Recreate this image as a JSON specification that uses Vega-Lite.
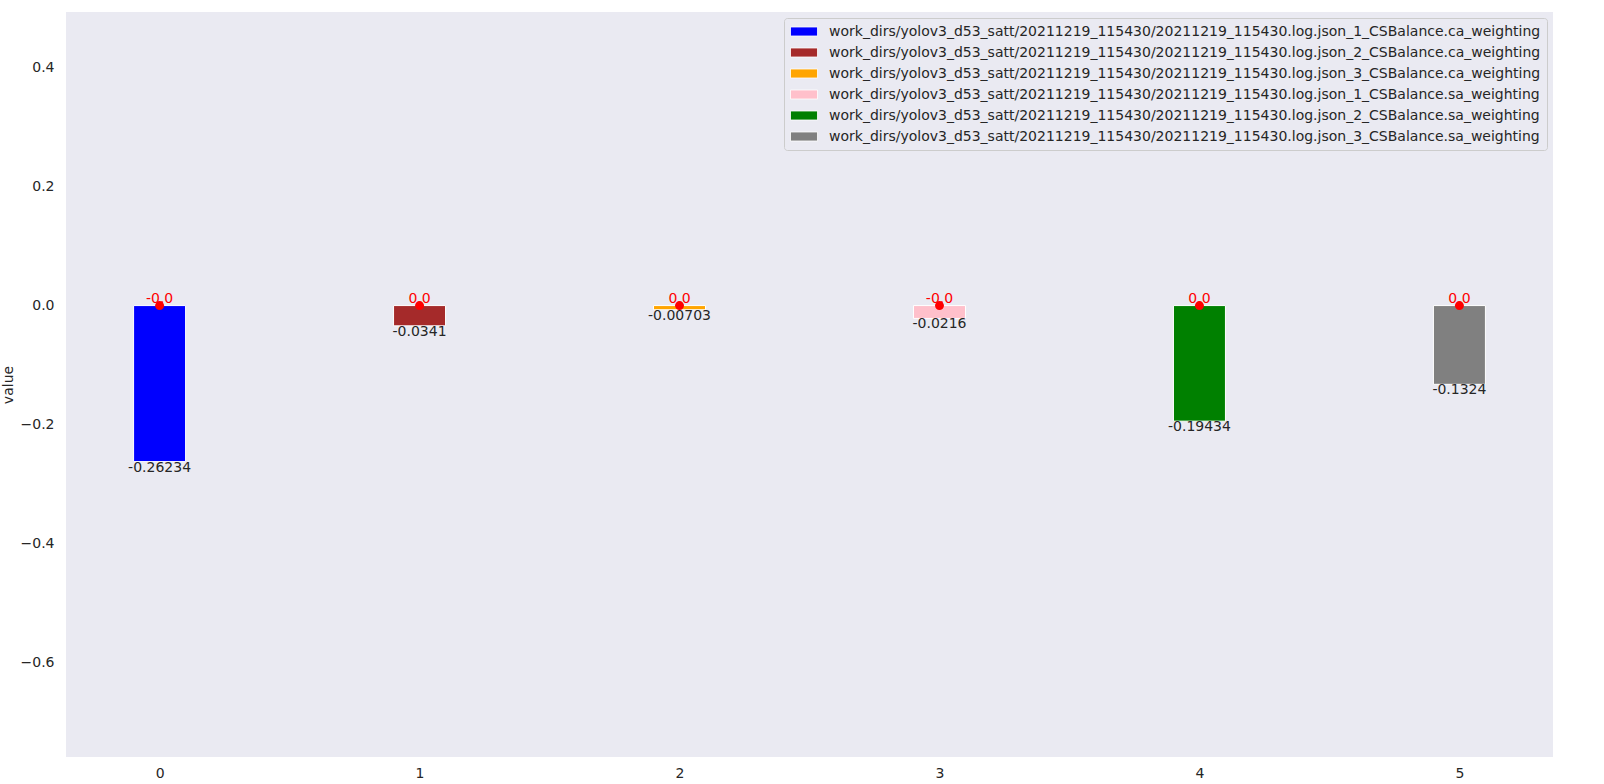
{
  "$schema": "https://vega.github.io/schema/vega-lite/v6.json",
  "autosize": "none",
  "width": 1487,
  "height": 745,
  "padding": {"left": 66, "top": 12, "right": 51, "bottom": 27},
  "background": "white",
  "config": {
    "font": "DejaVu Sans",
    "view": {"fill": "#EAEAF2", "stroke": null},
    "axis": {"grid": false, "ticks": false, "domain": false, "labelFontSize": 14, "labelColor": "#262626", "titleColor": "#262626", "titleFontWeight": "normal", "titleFontSize": 14, "labelFont": "DejaVu Sans", "titleFont": "DejaVu Sans"}
  },
  "data": {
    "values": [
      {"idx": 0, "series": "work_dirs/yolov3_d53_satt/20211219_115430/20211219_115430.log.json_1_CSBalance.ca_weighting", "value": -0.26234, "label": "-0.26234", "dot": 0, "dotLabel": "-0.0"},
      {"idx": 1, "series": "work_dirs/yolov3_d53_satt/20211219_115430/20211219_115430.log.json_2_CSBalance.ca_weighting", "value": -0.0341, "label": "-0.0341", "dot": 0, "dotLabel": "0.0"},
      {"idx": 2, "series": "work_dirs/yolov3_d53_satt/20211219_115430/20211219_115430.log.json_3_CSBalance.ca_weighting", "value": -0.00703, "label": "-0.00703", "dot": 0, "dotLabel": "0.0"},
      {"idx": 3, "series": "work_dirs/yolov3_d53_satt/20211219_115430/20211219_115430.log.json_1_CSBalance.sa_weighting", "value": -0.0216, "label": "-0.0216", "dot": 0, "dotLabel": "-0.0"},
      {"idx": 4, "series": "work_dirs/yolov3_d53_satt/20211219_115430/20211219_115430.log.json_2_CSBalance.sa_weighting", "value": -0.19434, "label": "-0.19434", "dot": 0, "dotLabel": "0.0"},
      {"idx": 5, "series": "work_dirs/yolov3_d53_satt/20211219_115430/20211219_115430.log.json_3_CSBalance.sa_weighting", "value": -0.1324, "label": "-0.1324", "dot": 0, "dotLabel": "0.0"}
    ]
  },
  "layer": [
    {
      "mark": {"type": "bar", "size": 52, "stroke": "white", "strokeWidth": 1},
      "encoding": {
        "x": {"field": "idx", "type": "quantitative", "scale": {"domain": [-0.36, 5.36], "nice": false, "zero": false, "padding": 0}, "axis": {"values": [0, 1, 2, 3, 4, 5], "format": "d", "title": null, "labelPadding": 9}},
        "y": {"field": "value", "type": "quantitative", "scale": {"domain": [-0.759, 0.4936], "nice": false, "padding": 0}, "axis": {"values": [-0.6, -0.4, -0.2, 0.0, 0.2, 0.4], "format": ".1f", "title": "value", "labelPadding": 12, "titlePadding": 5}},
        "color": {
          "field": "series", "type": "nominal",
          "scale": {
            "domain": [
              "work_dirs/yolov3_d53_satt/20211219_115430/20211219_115430.log.json_1_CSBalance.ca_weighting",
              "work_dirs/yolov3_d53_satt/20211219_115430/20211219_115430.log.json_2_CSBalance.ca_weighting",
              "work_dirs/yolov3_d53_satt/20211219_115430/20211219_115430.log.json_3_CSBalance.ca_weighting",
              "work_dirs/yolov3_d53_satt/20211219_115430/20211219_115430.log.json_1_CSBalance.sa_weighting",
              "work_dirs/yolov3_d53_satt/20211219_115430/20211219_115430.log.json_2_CSBalance.sa_weighting",
              "work_dirs/yolov3_d53_satt/20211219_115430/20211219_115430.log.json_3_CSBalance.sa_weighting"
            ],
            "range": ["#0000FF", "#A52A2A", "#FFA500", "#FFC0CB", "#008000", "#808080"]
          },
          "legend": {
            "title": null,
            "orient": "top-right",
            "offset": 6,
            "padding": 6,
            "fillColor": "#EAEAF2",
            "strokeColor": "#CCCCCC",
            "cornerRadius": 3,
            "labelFontSize": 14,
            "labelColor": "#262626",
            "labelFont": "DejaVu Sans",
            "labelLimit": 0,
            "symbolType": "M-1,-0.643h3.857v1.286h-3.857z",
            "symbolSize": 196,
            "symbolStrokeColor": "white",
            "symbolStrokeWidth": 0.8,
            "symbolOpacity": 1,
            "labelOffset": 24,
            "rowPadding": 6
          }
        }
      }
    },
    {
      "mark": {"type": "text", "baseline": "top", "dy": -1, "fontSize": 14, "color": "#262626", "font": "DejaVu Sans"},
      "encoding": {
        "x": {"field": "idx", "type": "quantitative"},
        "y": {"field": "value", "type": "quantitative"},
        "text": {"field": "label"}
      }
    },
    {
      "mark": {"type": "point", "filled": true, "color": "red", "size": 80, "opacity": 1},
      "encoding": {
        "x": {"field": "idx", "type": "quantitative"},
        "y": {"field": "dot", "type": "quantitative"}
      }
    },
    {
      "mark": {"type": "text", "baseline": "alphabetic", "dy": -3, "fontSize": 14, "color": "red", "font": "DejaVu Sans"},
      "encoding": {
        "x": {"field": "idx", "type": "quantitative"},
        "y": {"field": "dot", "type": "quantitative"},
        "text": {"field": "dotLabel"}
      }
    }
  ]
}
